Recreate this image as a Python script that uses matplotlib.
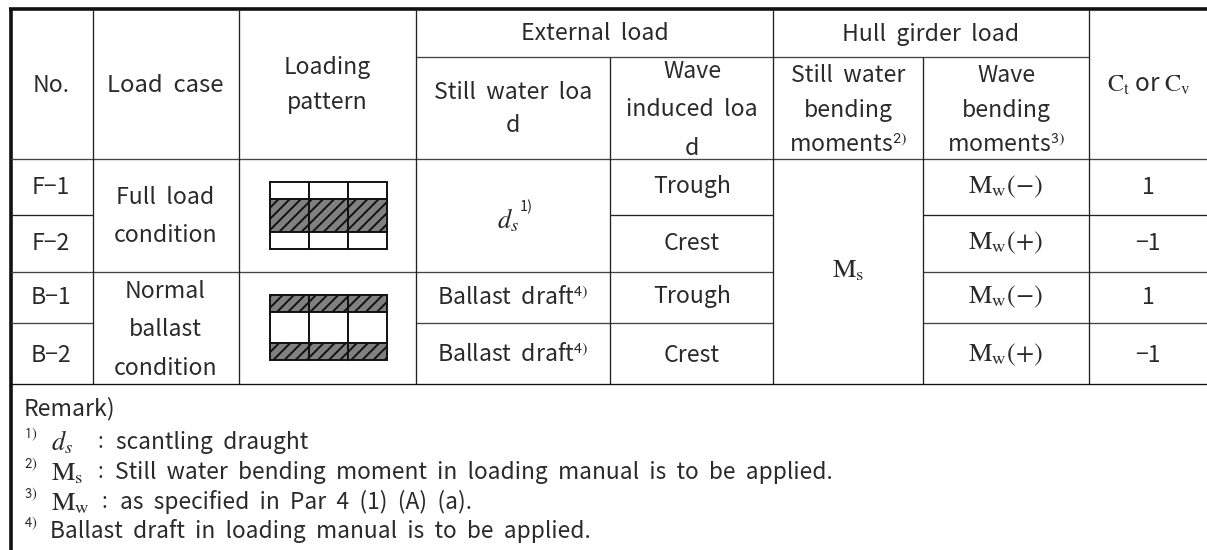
import matplotlib
matplotlib.use("Agg")
import matplotlib.pyplot as plt
from matplotlib.patches import Rectangle

plt.rcParams['font.family'] = ['Noto Sans CJK KR', 'DejaVu Sans']
plt.rcParams['mathtext.fontset'] = 'stix'
plt.rcParams['hatch.linewidth'] = 1.4

# table text
case_no = ["F\u22121", "F\u22122", "B\u22121", "B\u22122"]
wave_load = ["Trough", "Crest", "Trough", "Crest"]
wave_moment = [r"$\mathrm{M_w(-)}$", r"$\mathrm{M_w(+)}$", r"$\mathrm{M_w(-)}$", r"$\mathrm{M_w(+)}$"]
coeff = ["1", "\u22121", "1", "\u22121"]
remark_marks = [r"$^{\mathsf{1)}}$", r"$^{\mathsf{2)}}$", r"$^{\mathsf{3)}}$", r"$^{\mathsf{4)}}$"]
remark_syms = [r"$d_s$", r"$\mathrm{M_s}$", r"$\mathrm{M_w}$", ""]
remark_text = ["scantling  draught",
               "Still  water  bending  moment  in  loading  manual  is  to  be  applied.",
               "as  specified  in  Par  4  (1)  (A)  (a).",
               "Ballast  draft  in  loading  manual  is  to  be  applied."]

# row centres in pixels
row_mid = [187, 243, 297, 355]

fig = plt.figure(figsize=(12.07, 5.5), dpi=100)
ax = fig.add_axes([0, 0, 1, 1])
ax.set_xlim(0, 1207)
ax.set_ylim(550, 0)
ax.axis("off")

FS = 16.6
TC = "#2a2a2a"


def txt(x, y, s, size=FS, ha="center", **kw):
    ax.text(x, y, s, fontsize=size, ha=ha, va="center", color=TC, **kw)


def hline(y, x0, x1, lw=0.95, c="#222222"):
    ax.plot([x0, x1], [y, y], color=c, lw=lw, solid_capstyle="butt")


def vline(x, y0, y1, lw=0.95, c="#222222"):
    ax.plot([x, x], [y0, y1], color=c, lw=lw, solid_capstyle="butt")


# Outer thick lines
hline(9, 9, 1207, lw=2.6, c="#111111")
vline(11, 8, 550, lw=2.6, c="#111111")

# Horizontal lines
hline(57, 416, 1089, c="#444444")
hline(159, 11, 1207, c="#444444")
hline(214.5, 11, 92.5)
hline(214.5, 610, 773)
hline(214.5, 923, 1207)
hline(272, 11, 773, c="#444444")
hline(272, 923, 1207, c="#444444")
hline(323, 11, 92.5, c="#444444")
hline(323, 416, 773, c="#444444")
hline(323, 923, 1207, c="#444444")
hline(384, 11, 1207, c="#111111")

# Vertical lines
for x in [92.5, 239, 416, 773, 1089]:
    vline(x, 10, 384)
vline(610, 57, 384)
vline(923, 57, 384)

# Header text
txt(51, 85, "No.")
txt(165.5, 85, "Load  case", size=17.2)
txt(327.5, 85, "Loading\npattern", linespacing=1.65)
txt(595, 34, "External  load")
txt(931, 34, "Hull  girder  load")
txt(513, 109, "Still  water  loa\nd", linespacing=1.6)
txt(692, 110, "Wave\ninduced  loa\nd", linespacing=1.85)
txt(848, 75, "Still  water")
txt(848, 110, "bending")
txt(848, 145, r"moments$^{\mathsf{2)}}$")
txt(1006, 75, "Wave")
txt(1006, 110, "bending")
txt(1006, 145, r"moments$^{\mathsf{3)}}$")
txt(1149, 85, r"$\mathrm{C_t}$ or $\mathrm{C_v}$", size=17.5)

# Body rows
for i in range(4):
    txt(51, row_mid[i], case_no[i])
    txt(692, row_mid[i], wave_load[i])
    txt(1005, row_mid[i], wave_moment[i], size=19)
    txt(1148, row_mid[i], coeff[i])

txt(165.5, 216.5, "Full  load\ncondition", linespacing=1.85)
txt(165.5, 330, "Normal\nballast\ncondition", linespacing=1.88)
txt(508, 221, r"$d_s$", size=19)
txt(526, 207, "1)", size=10.5)
txt(513, 298, r"Ballast  draft$^{\mathsf{4)}}$")
txt(513, 355, r"Ballast  draft$^{\mathsf{4)}}$")
txt(848, 270, r"$\mathrm{M_s}$", size=19)


# Loading pattern sketches
def cell(x0, y0, w, h, hatched):
    if hatched:
        ax.add_patch(Rectangle((x0, y0), w, h, facecolor="#808080", edgecolor="#111111",
                               hatch="///", lw=1.4))
    else:
        ax.add_patch(Rectangle((x0, y0), w, h, facecolor="white", edgecolor="#111111", lw=1.4))


sk_x = [270, 309, 348]
sk_w = [39, 39, 39]
for x, w in zip(sk_x, sk_w):
    cell(x, 182, w, 17, False)
    cell(x, 199, w, 33, True)
    cell(x, 232, w, 17, False)
    cell(x, 295, w, 17, True)
    cell(x, 312, w, 31, False)
    cell(x, 343, w, 17, True)

# Remarks
txt(24, 409, "Remark)", size=16.6, ha="left")
rem_y = [442, 472, 502, 531]
rem_colon_x = [100, 100, 104, None]
rem_text_x = [116, 115, 120, 50]
for i in range(4):
    txt(24, rem_y[i] - 3, remark_marks[i], size=15, ha="left")
    if remark_syms[i]:
        txt(51, rem_y[i] + 1, remark_syms[i], size=19, ha="left")
        txt(rem_colon_x[i], rem_y[i], ":", size=15, ha="center")
    txt(rem_text_x[i], rem_y[i], remark_text[i], size=16.4, ha="left")

fig.savefig("out.png", dpi=100)
